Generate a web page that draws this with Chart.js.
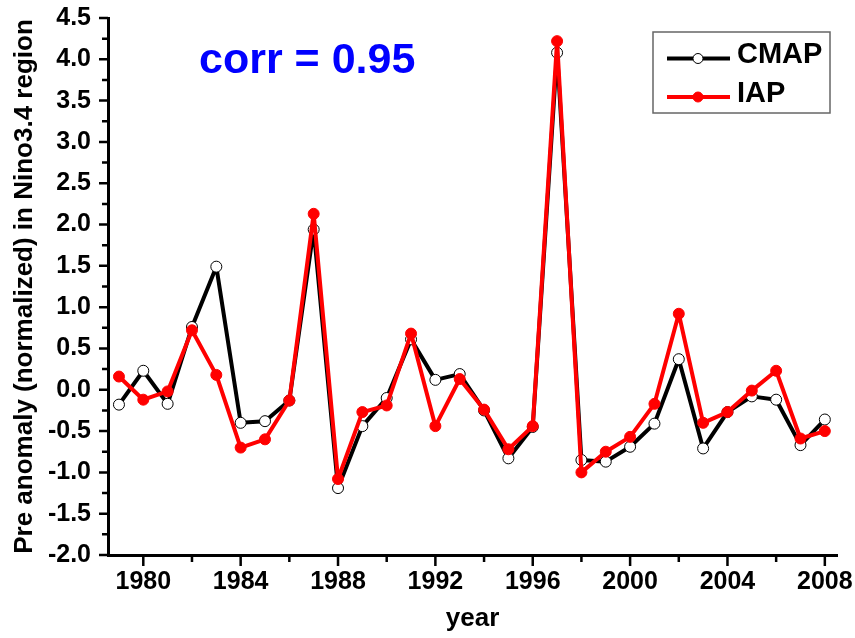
<!DOCTYPE html>
<html>
<head>
<meta charset="utf-8">
<script src="https://cdn.jsdelivr.net/npm/chart.js@4"></script>
<style>
  body { margin: 0; background: #fff; }
  #wrap { width: 855px; height: 638px; }
</style>
</head>
<body>
<div id="wrap"><canvas id="nino-chart" width="855" height="638"></canvas></div>
<script>
const years = [1979, 1980, 1981, 1982, 1983, 1984, 1985, 1986, 1987, 1988,
               1989, 1990, 1991, 1992, 1993, 1994, 1995, 1996, 1997, 1998,
               1999, 2000, 2001, 2002, 2003, 2004, 2005, 2006, 2007, 2008];
const cmap = [-0.18, 0.23, -0.17, 0.76, 1.49, -0.40, -0.38, -0.13, 1.94, -1.19,
              -0.44, -0.10, 0.61, 0.12, 0.19, -0.25, -0.83, -0.45, 4.08, -0.85,
              -0.87, -0.69, -0.41, 0.37, -0.71, -0.27, -0.08, -0.12, -0.67, -0.36];
const iap = [0.16, -0.12, -0.02, 0.72, 0.18, -0.70, -0.60, -0.13, 2.13, -1.08,
             -0.27, -0.19, 0.68, -0.44, 0.13, -0.24, -0.72, -0.44, 4.22, -1.00,
             -0.75, -0.57, -0.17, 0.92, -0.40, -0.27, -0.01, 0.23, -0.59, -0.50];
const xTicks = [1980, 1982, 1984, 1986, 1988, 1990, 1992, 1994, 1996, 1998,
                2000, 2002, 2004, 2006, 2008];
const yTicks = [-2, -1.75, -1.5, -1.25, -1, -0.75, -0.5, -0.25, 0, 0.25, 0.5, 0.75,
                1, 1.25, 1.5, 1.75, 2, 2.25, 2.5, 2.75, 3, 3.25, 3.5, 3.75, 4, 4.25, 4.5];
const corrText = 'corr = 0.95';

const FONT = '"Liberation Sans", Arial, sans-serif';

function isLabelledX(v) { return v % 4 === 0; }
function isLabelledY(v) { return Math.abs(v * 2 - Math.round(v * 2)) < 1e-9; }

// tick marks: longer on labelled ticks
const tickMarks = {
  id: 'tickMarks',
  afterDraw(chart) {
    const { ctx, scales: { x, y } } = chart;
    ctx.save();
    ctx.strokeStyle = '#000';
    ctx.lineWidth = 2.5;
    ctx.beginPath();
    x.ticks.forEach(t => {
      const px = x.getPixelForValue(t.value);
      ctx.moveTo(px, x.top);
      ctx.lineTo(px, x.top + (isLabelledX(t.value) ? 11 : 7));
    });
    y.ticks.forEach(t => {
      const py = y.getPixelForValue(t.value);
      ctx.moveTo(y.right, py);
      ctx.lineTo(y.right - (isLabelledY(t.value) ? 9 : 6), py);
    });
    ctx.stroke();
    ctx.restore();
  }
};

const corrLabel = {
  id: 'corrLabel',
  afterDraw(chart) {
    const ctx = chart.ctx;
    ctx.save();
    ctx.font = 'bold 43px ' + FONT;
    ctx.fillStyle = '#0000ff';
    ctx.textBaseline = 'alphabetic';
    ctx.fillText(corrText, 199, 73);
    ctx.restore();
  }
};

const seriesKey = {
  id: 'seriesKey',
  afterDraw(chart) {
    const ctx = chart.ctx;
    ctx.save();
    ctx.fillStyle = '#fff';
    ctx.fillRect(653, 32, 177, 81);
    ctx.strokeStyle = '#666';
    ctx.lineWidth = 1.5;
    ctx.strokeRect(653, 32, 177, 81);
    chart.data.datasets.forEach((ds, i) => {
      const rowY = 58.5 + i * 38.5;
      ctx.strokeStyle = ds.borderColor;
      ctx.lineWidth = ds.borderWidth;
      ctx.beginPath();
      ctx.moveTo(667, rowY);
      ctx.lineTo(730, rowY);
      ctx.stroke();
      ctx.beginPath();
      ctx.arc(698, rowY, 5, 0, Math.PI * 2);
      ctx.fillStyle = ds.pointBackgroundColor;
      ctx.fill();
      ctx.lineWidth = ds.pointBorderWidth;
      ctx.strokeStyle = ds.pointBorderColor;
      ctx.stroke();
      ctx.font = 'bold 29px ' + FONT;
      ctx.fillStyle = '#000';
      ctx.textBaseline = 'middle';
      ctx.fillText(ds.label, 737, rowY - 3.5);
    });
    ctx.restore();
  }
};

const ctx = document.getElementById('nino-chart');

new Chart(ctx, {
  type: 'line',
  data: {
    datasets: [{
      label: 'CMAP',
      data: years.map((yr, i) => ({ x: yr, y: cmap[i] })),
      borderColor: '#000000',
      borderWidth: 4,
      borderJoinStyle: 'round',
      pointRadius: 5.5,
      pointBackgroundColor: '#ffffff',
      pointBorderColor: '#000000',
      pointBorderWidth: 1,
      tension: 0,
      order: 2
    }, {
      label: 'IAP',
      data: years.map((yr, i) => ({ x: yr, y: iap[i] })),
      borderColor: '#ff0000',
      borderWidth: 4,
      borderJoinStyle: 'round',
      pointRadius: 5.5,
      pointBackgroundColor: '#ff0000',
      pointBorderColor: '#ff0000',
      pointBorderWidth: 1,
      tension: 0,
      order: 1
    }]
  },
  options: {
    responsive: false,
    animation: false,
    layout: { padding: { top: 18, right: 18, left: 0, bottom: 0 } },
    plugins: {
      legend: { display: false },
      tooltip: { enabled: false }
    },
    scales: {
      x: {
        type: 'linear',
        min: 1978.55,
        max: 2008.5,
        afterBuildTicks: s => { s.ticks = xTicks.map(v => ({ value: v })); },
        afterFit: s => { s.height = 83; s.paddingLeft = 0; s.paddingRight = 0; },
        grid: { display: false, drawTicks: false },
        border: { display: true, color: '#000', width: 3 },
        ticks: {
          autoSkip: false,
          maxRotation: 0,
          padding: 12,
          color: '#000',
          font: { family: FONT, size: 25, weight: 'bold' },
          callback: v => isLabelledX(v) ? String(v) : ''
        },
        title: {
          display: true,
          text: 'year',
          color: '#000',
          font: { family: FONT, size: 26, weight: 'bold' },
          padding: { top: 0, bottom: 4 }
        }
      },
      y: {
        min: -2,
        max: 4.5,
        afterBuildTicks: s => { s.ticks = yTicks.map(v => ({ value: v })); },
        afterFit: s => { s.width = 108; s.paddingTop = 0; s.paddingBottom = 0; },
        grid: { display: false, drawTicks: false },
        border: { display: true, color: '#000', width: 3 },
        ticks: {
          autoSkip: false,
          padding: 17,
          color: '#000',
          font: { family: FONT, size: 25, weight: 'bold' },
          callback: v => isLabelledY(v) ? v.toFixed(1) : ''
        },
        title: {
          display: true,
          text: 'Pre anomaly (normalized) in Nino3.4 region',
          color: '#000',
          font: { family: FONT, size: 26, weight: 'bold' },
          padding: { top: 9, bottom: 0 }
        }
      }
    }
  },
  plugins: [tickMarks, corrLabel, seriesKey]
});
</script>
</body>
</html>
